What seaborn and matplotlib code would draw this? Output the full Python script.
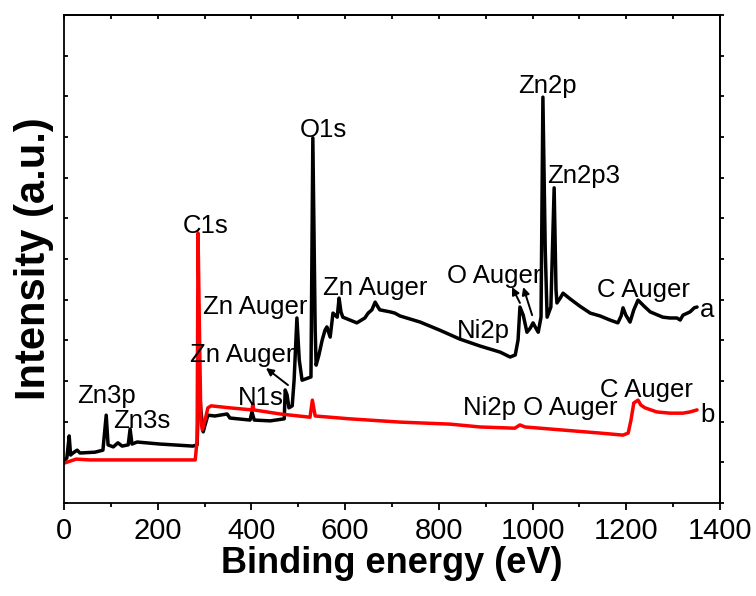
import numpy as np
import pandas as pd
import matplotlib
matplotlib.use("Agg")
import matplotlib.pyplot as plt
import seaborn as sns
from matplotlib.ticker import MultipleLocator

# ---------------- data ----------------
energy_a = [0, 6, 11, 14, 19, 28, 34, 66, 83, 90, 94, 105, 115, 124, 137, 141, 145, 156,
            205, 275, 284, 288, 292, 297, 301, 307, 322, 348, 354, 397, 401, 406, 440,
            470, 472, 476, 480, 487, 491, 497, 502, 508, 527, 531, 536, 538, 544, 551,
            557, 561, 568, 574, 583, 587, 591, 595, 610, 625, 642, 649, 657, 664, 670,
            674, 696, 706, 717, 760, 802, 845, 888, 931, 952, 963, 969, 973, 980, 988,
            995, 1001, 1007, 1012, 1018, 1022, 1027, 1031, 1039, 1046, 1050, 1052, 1059,
            1065, 1080, 1101, 1123, 1144, 1165, 1182, 1189, 1193, 1199, 1208, 1216, 1225,
            1238, 1251, 1278, 1293, 1308, 1315, 1321, 1336, 1345, 1351]
intensity_a = [1.03, 1.11, 1.65, 1.18, 1.23, 1.30, 1.23, 1.25, 1.30, 2.16, 1.43, 1.38, 1.48,
               1.40, 1.43, 1.82, 1.45, 1.50, 1.45, 1.40, 1.43, 3.02, 2.29, 1.75, 1.92, 2.16,
               2.14, 2.19, 2.09, 2.04, 2.24, 2.04, 2.02, 2.07, 2.78, 2.66, 2.34, 2.39, 3.02,
               4.55, 3.52, 3.02, 3.10, 8.98, 4.25, 3.39, 3.64, 4.01, 4.25, 4.33, 4.08, 4.67,
               4.57, 5.04, 4.70, 4.57, 4.50, 4.43, 4.55, 4.67, 4.75, 4.94, 4.82, 4.75, 4.70,
               4.67, 4.60, 4.45, 4.25, 4.03, 3.86, 3.71, 3.59, 3.64, 4.01, 4.82, 4.62, 4.20,
               4.30, 4.43, 4.30, 4.20, 4.57, 9.98, 6.22, 4.57, 4.82, 7.75, 5.24, 4.92, 5.04,
               5.16, 5.02, 4.84, 4.67, 4.60, 4.50, 4.43, 4.60, 4.80, 4.62, 4.45, 4.75, 4.99,
               4.84, 4.70, 4.57, 4.55, 4.55, 4.50, 4.62, 4.70, 4.80, 4.82]

energy_b = [0, 13, 26, 55, 120, 205, 280, 284, 286, 289, 292, 295, 301, 307, 314, 354,
            401, 403, 405, 461, 525, 530, 536, 610, 717, 824, 888, 962, 973, 984, 1059,
            1144, 1193, 1204, 1210, 1216, 1225, 1231, 1240, 1265, 1293, 1321, 1336, 1351]
intensity_b = [0.98, 1.03, 1.08, 1.06, 1.06, 1.06, 1.06, 1.55, 6.64, 4.25, 2.04, 1.80, 2.04,
               2.34, 2.39, 2.34, 2.29, 2.43, 2.29, 2.19, 2.11, 2.53, 2.14, 2.07, 1.99, 1.94,
               1.87, 1.84, 1.92, 1.87, 1.80, 1.72, 1.67, 1.72, 2.04, 2.46, 2.53, 2.41, 2.34,
               2.24, 2.21, 2.21, 2.24, 2.29]

sample_names = ["a", "b"]
sample_colors = ["#000000", "#ff0000"]

label_texts = ["C1s", "Zn Auger", "Zn Auger", "N1s", "Zn3p", "Zn3s", "O1s", "Zn Auger",
               "Zn2p", "Zn2p3", "O Auger", "Ni2p", "C Auger", "a",
               "Ni2p O Auger", "C Auger", "b"]
label_energy = [254, 297, 269, 371, 28, 105, 504, 553, 969, 1031, 817, 839, 1138, 1356,
                852, 1144, 1358]
label_intensity = [6.64, 4.65, 3.47, 2.41, 2.46, 1.84, 9.00, 5.11, 10.08, 7.87, 5.41, 4.06,
                   5.07, 4.57, 2.16, 2.61, 1.99]

arrow_tail_energy = [478, 973, 999]
arrow_tail_intensity = [2.90, 4.92, 4.62]
arrow_head_energy = [431, 956, 980]
arrow_head_intensity = [3.32, 5.31, 5.31]

x_ticks = [0, 200, 400, 600, 800, 1000, 1200, 1400]

# ---------------- plotting ----------------
sns.set_style("ticks")
plt.rcParams["font.family"] = ["Liberation Sans", "DejaVu Sans"]
for key in ("text.color", "axes.labelcolor", "xtick.color", "ytick.color", "axes.edgecolor"):
    plt.rcParams[key] = "black"

df = pd.concat([
    pd.DataFrame({"energy": energy_a, "intensity": intensity_a, "sample": sample_names[0]}),
    pd.DataFrame({"energy": energy_b, "intensity": intensity_b, "sample": sample_names[1]}),
], ignore_index=True)

fig = plt.figure(figsize=(7.56, 5.96), dpi=100)
ax = fig.add_axes([0.0847, 0.1560, 0.8677, 0.8188])

sns.lineplot(data=df, x="energy", y="intensity", hue="sample",
             palette=dict(zip(sample_names, sample_colors)), hue_order=sample_names,
             sort=False, estimator=None, linewidth=2.5, legend=False, ax=ax)

ax.set_xlim(0, 1400)
ax.set_ylim(0, 12)

for t, xe, yi in zip(label_texts, label_energy, label_intensity):
    ax.text(xe, yi, t, fontsize=18.5, ha="left", va="baseline", color="black")

for xt, yt, xh, yh in zip(arrow_tail_energy, arrow_tail_intensity,
                          arrow_head_energy, arrow_head_intensity):
    ax.annotate("", xy=(xh, yh), xytext=(xt, yt),
                arrowprops=dict(arrowstyle="-|>", color="black", lw=1.4,
                                mutation_scale=11, shrinkA=0, shrinkB=0))

ax.set_xticks(x_ticks)
ax.xaxis.set_minor_locator(MultipleLocator(100))
ax.tick_params(axis="x", which="major", direction="out", length=5, width=1.3,
               labelsize=21, pad=5, top=False, colors="black")
ax.tick_params(axis="x", which="minor", direction="out", length=3, width=1.3, top=False)
ax.set_yticks(np.arange(0, 13, 1))
ax.tick_params(axis="y", which="major", direction="in", length=3, width=1.3,
               labelleft=False, right=False)

secx = ax.secondary_xaxis("top")
secx.set_xticks(np.arange(0, 1401, 100))
secx.tick_params(direction="in", length=3, width=1.3, labeltop=False)
secy = ax.secondary_yaxis("right")
secy.set_yticks(np.arange(0, 13, 1))
secy.tick_params(direction="out", length=3, width=1.3, labelright=False)

for a in (ax, secx, secy):
    for s in a.spines.values():
        s.set_linewidth(1.3)
        s.set_color("black")

ax.set_xlabel("Binding energy (eV)", fontsize=26, fontweight="bold", labelpad=1, color="black")
ax.set_ylabel("Intensity (a.u.)", fontsize=30, fontweight="bold", labelpad=7, color="black")

fig.savefig("out.png", dpi=100)
